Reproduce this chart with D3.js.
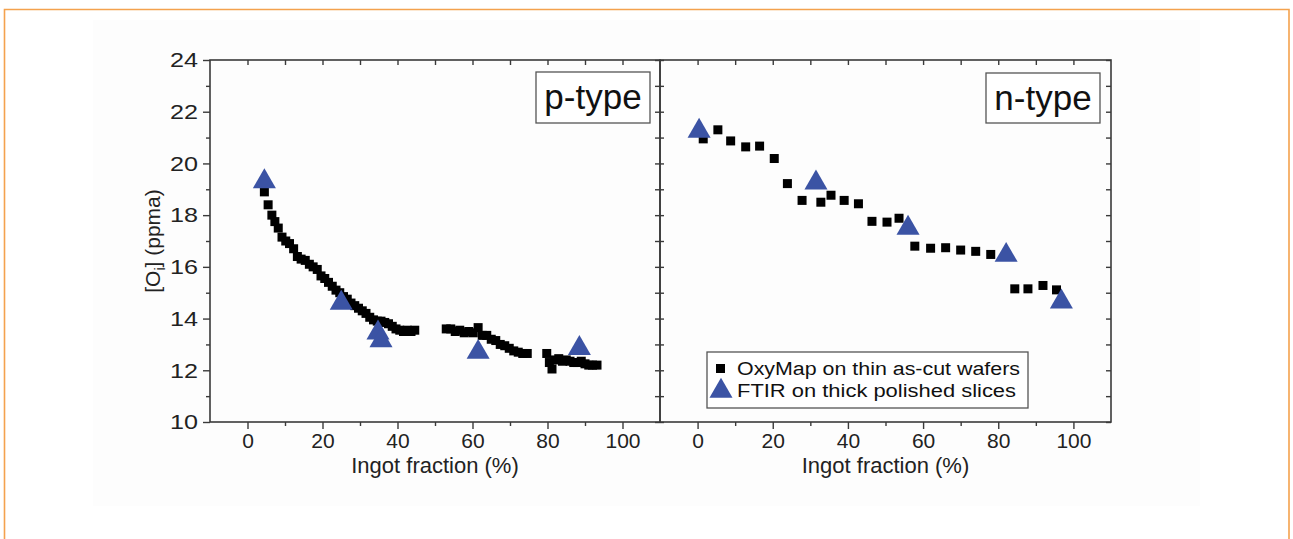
<!DOCTYPE html>
<html><head><meta charset="utf-8">
<script src="https://cdn.jsdelivr.net/npm/d3@7"></script>
<style>
html,body{margin:0;padding:0;background:#fff;}
svg{display:block;font-family:"Liberation Sans",Arial,sans-serif;}
</style></head>
<body><svg id="c" width="1293" height="539"></svg>
<script>
// ---- data ----
const pTypeOxyMap = [
 [4.5,18.9],[5.5,18.4],[6.5,18.0],[7.3,17.75],[8.2,17.5],[9.2,17.15],[10.2,17.0],[11.2,16.9],[12.3,16.7],[13.3,16.4],
 [14.3,16.3],[15.4,16.25],[16.5,16.1],[17.5,16.0],[18.6,15.9],[19.6,15.65],[20.6,15.55],[21.6,15.4],[22.6,15.25],[23.6,15.1],
 [24.6,15.0],[25.6,14.85],[26.6,14.75],[27.6,14.6],[28.6,14.5],[29.6,14.4],[30.6,14.3],[31.6,14.2],[32.6,14.05],[33.6,13.95],
 [34.6,13.9],[35.6,13.9],[36.6,13.85],[37.6,13.8],[38.6,13.7],[39.6,13.6],[40.6,13.55],[41.6,13.5],[42.6,13.55],[43.6,13.5],[44.6,13.55],
 [53,13.6],[54.2,13.6],[55.4,13.5],[56.6,13.55],[57.8,13.45],[59,13.5],[60.2,13.45],[61.5,13.65],[62.6,13.35],[63.8,13.35],
 [65,13.2],[66.2,13.15],[67.4,13.0],[68.6,12.95],[69.8,12.85],[71,12.75],[72.2,12.7],[73.4,12.65],[74.6,12.65],
 [79.8,12.65],[80.5,12.3],[81.2,12.05],[82,12.4],[83,12.45],[84,12.35],[85,12.4],[86,12.35],[87,12.3],[88,12.3],
 [89,12.35],[90,12.25],[91,12.2],[92,12.2],[93.2,12.2]
];
const pTypeFTIR = [[4.5,19.3],[25,14.6],[34.8,13.45],[35.6,13.15],[61.5,12.7],[88.5,12.85]];
const nTypeOxyMap = [
 [1.5,20.95],[5.4,21.3],[8.8,20.87],[12.8,20.64],[16.5,20.67],[20.4,20.19],[23.9,19.22],[27.8,18.57],[32.8,18.5],[35.5,18.77],
 [39,18.57],[42.8,18.44],[46.4,17.76],[50.4,17.73],[53.6,17.88],[57.8,16.8],[62,16.72],[66,16.74],[70,16.65],[74,16.6],[78,16.48],
 [84.4,15.15],[87.9,15.15],[91.9,15.28],[95.5,15.11]
];
const nTypeFTIR = [[0.4,21.25],[31.5,19.25],[56,17.5],[82.1,16.45],[96.8,14.65]];
const xMajorTicks = [0,20,40,60,80,100];
const xMinorTicks = [-10,10,30,50,70,90,110];
const yMajorTicks = [10,12,14,16,18,20,22,24];
const yMinorTicks = [11,13,15,17,19,21,23];
const panelLabels = ["p-type","n-type"];
const legendLabels = ["OxyMap on thin as-cut wafers","FTIR on thick polished slices"];
const xTitle = "Ingot fraction (%)";

// ---- drawing ----
const svg = d3.select("#c");
const axisCol = "#3a3a3a", triCol = "#3b53a4";

// faint background panel and orange frame
svg.append("rect").attr("x",93).attr("y",20).attr("width",1107).attr("height",486).attr("fill","#fdfdfd");
svg.append("path").attr("d","M4.5,539 L4.5,9.5 L1289,9.5 L1289,539").attr("fill","none").attr("stroke","#f4a24e").attr("stroke-width",1.6);

const y = d3.scaleLinear().domain([10,24]).range([422,60]);
const panels = [
  {x: d3.scaleLinear().domain([-10,110]).range([210,660]), sq: pTypeOxyMap, tr: pTypeFTIR, label: panelLabels[0], box:[536,72,114,51], leftLabels:true},
  {x: d3.scaleLinear().domain([-10,110]).range([660,1111]), sq: nTypeOxyMap, tr: nTypeFTIR, label: panelLabels[1], box:[986,73,114,50], leftLabels:false}
];

function styleAxis(g){
  g.select(".domain").remove();
  g.selectAll(".tick line").attr("stroke",axisCol).attr("stroke-width",1.4);
  g.selectAll(".tick text").attr("fill","#222").attr("font-size",20).attr("font-family","Liberation Sans, Arial, sans-serif");
}

panels.forEach((p,i)=>{
  const [x0,x1] = p.x.range(), [yb,yt] = y.range();
  // bottom axis (outward)
  svg.append("g").attr("transform",`translate(0,${yb})`)
    .call(d3.axisBottom(p.x).tickValues(xMajorTicks).tickSize(7).tickPadding(4).tickFormat(d3.format("d"))).call(styleAxis)
    .selectAll(".tick text").attr("font-size",21);
  svg.append("g").attr("transform",`translate(0,${yb})`)
    .call(d3.axisBottom(p.x).tickValues(xMinorTicks.filter(v=>v>-10&&v<110)).tickSize(4).tickFormat("")).call(styleAxis);
  // top axis (inward)
  svg.append("g").attr("transform",`translate(0,${yt})`)
    .call(d3.axisBottom(p.x).tickValues(xMajorTicks.concat(xMinorTicks.filter(v=>v>-10&&v<110))).tickSize(5).tickFormat("")).call(styleAxis);
  // left axis
  if(p.leftLabels){
    svg.append("g").attr("transform",`translate(${x0},0)`)
      .call(d3.axisLeft(y).tickValues(yMajorTicks).tickSize(7).tickPadding(5).tickFormat(d3.format("d"))).call(styleAxis)
      .selectAll(".tick text").attr("font-size",21).attr("textLength",28).attr("lengthAdjust","spacingAndGlyphs");
    svg.append("g").attr("transform",`translate(${x0},0)`)
      .call(d3.axisLeft(y).tickValues(yMinorTicks).tickSize(4).tickFormat("")).call(styleAxis);
  } else {
    svg.append("g").attr("transform",`translate(${x0},0)`)
      .call(d3.axisRight(y).tickValues(yMajorTicks.concat(yMinorTicks)).tickSize(4).tickFormat("")).call(styleAxis);
  }
  // right axis (inward)
  svg.append("g").attr("transform",`translate(${x1},0)`)
    .call(d3.axisLeft(y).tickValues(yMajorTicks.concat(yMinorTicks)).tickSize(5).tickFormat("")).call(styleAxis);
  // frame
  svg.append("rect").attr("x",x0).attr("y",yt).attr("width",x1-x0).attr("height",yb-yt)
    .attr("fill","none").attr("stroke",axisCol).attr("stroke-width",1.6);
  // x title
  svg.append("text").attr("x",(x0+x1)/2).attr("y",473).attr("text-anchor","middle")
    .attr("font-size",22).attr("fill","#222").text(xTitle);
  // data: squares
  const sqSize = 9;
  svg.append("g").selectAll("rect").data(p.sq).join("rect")
    .attr("x",d=>p.x(d[0])-sqSize/2).attr("y",d=>y(d[1])-sqSize/2)
    .attr("width",sqSize).attr("height",sqSize).attr("fill","#000");
  // data: triangles
  const tri = d3.symbol().type(d3.symbolTriangle).size(230);
  svg.append("g").selectAll("path").data(p.tr).join("path")
    .attr("d",tri).attr("transform",d=>`translate(${p.x(d[0])},${y(d[1])})`).attr("fill",triCol);
  // panel label box
  const [bx,by,bw,bh] = p.box;
  svg.append("rect").attr("x",bx).attr("y",by).attr("width",bw).attr("height",bh)
    .attr("fill","#fff").attr("stroke","#555").attr("stroke-width",1.3);
  svg.append("text").attr("x",bx+bw/2).attr("y",by+37).attr("text-anchor","middle")
    .attr("font-size",35).attr("fill","#111").text(p.label);
});

// y title
const ytl = svg.append("text").attr("transform","translate(160,241) rotate(-90)").attr("text-anchor","middle")
  .attr("font-size",21).attr("fill","#222");
ytl.append("tspan").text("[O");
ytl.append("tspan").attr("font-size",14).attr("dy",5).text("i");
ytl.append("tspan").attr("dy",-5).text("] (ppma)");

// legend
const lg = svg.append("g");
lg.append("rect").attr("x",707).attr("y",352).attr("width",321).attr("height",56)
  .attr("fill","#fff").attr("stroke","#555").attr("stroke-width",1.3);
lg.append("rect").attr("x",716).attr("y",364).attr("width",9).attr("height",9).attr("fill","#000");
lg.append("path").attr("d",d3.symbol().type(d3.symbolTriangle).size(230)).attr("transform","translate(721,391)").attr("fill",triCol);
const legLen = [283,279];
lg.selectAll("text").data(legendLabels).join("text")
  .attr("x",737).attr("y",(d,i)=>375+i*22).attr("font-size",18).attr("fill","#111")
  .attr("textLength",(d,i)=>legLen[i]).attr("lengthAdjust","spacingAndGlyphs").text(d=>d);
</script></body></html>
